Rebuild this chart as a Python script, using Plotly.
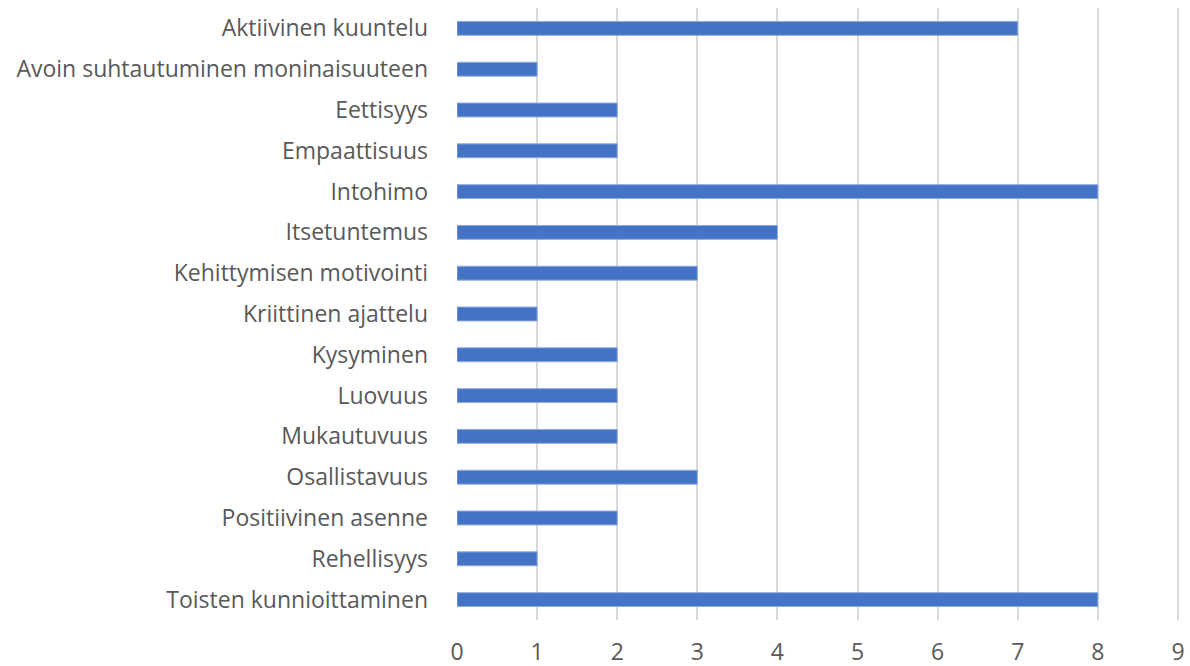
import plotly.graph_objects as go

categories = [
    "Aktiivinen kuuntelu",
    "Avoin suhtautuminen moninaisuuteen",
    "Eettisyys",
    "Empaattisuus",
    "Intohimo",
    "Itsetuntemus",
    "Kehittymisen motivointi",
    "Kriittinen ajattelu",
    "Kysyminen",
    "Luovuus",
    "Mukautuvuus",
    "Osallistavuus",
    "Positiivinen asenne",
    "Rehellisyys",
    "Toisten kunnioittaminen",
]
values = [7, 1, 2, 2, 8, 4, 3, 1, 2, 2, 2, 3, 2, 1, 8]
x_ticks = list(range(0, 10))

fig = go.Figure(
    go.Bar(
        y=categories,
        x=values,
        orientation="h",
        marker=dict(color="#4472C4", line=dict(color="#8FAADC", width=1)),
        width=0.34,
    )
)

fig.update_layout(
    width=1190,
    height=666,
    margin=dict(l=457, r=8, t=8, b=46),
    paper_bgcolor="white",
    plot_bgcolor="white",
    font=dict(family="Open Sans", size=23, color="#595959"),
    showlegend=False,
)
fig.update_xaxes(
    range=[0, 9.05],
    tickvals=x_ticks,
    showgrid=True,
    gridcolor="#D9D9D9",
    gridwidth=1.5,
    zeroline=False,
    showline=False,
    ticks="",
    ticklabelstandoff=16,
    tickfont=dict(size=23),
    automargin=False,
)
fig.update_yaxes(
    categoryorder="array",
    categoryarray=categories,
    autorange="reversed",
    showgrid=False,
    zeroline=False,
    showline=False,
    ticks="",
    ticklabelstandoff=28,
    automargin=False,
)

fig.write_html(
    "out.html",
    config={"displayModeBar": False},
    post_script="document.body.style.margin='0';document.body.style.overflow='hidden';",
)
